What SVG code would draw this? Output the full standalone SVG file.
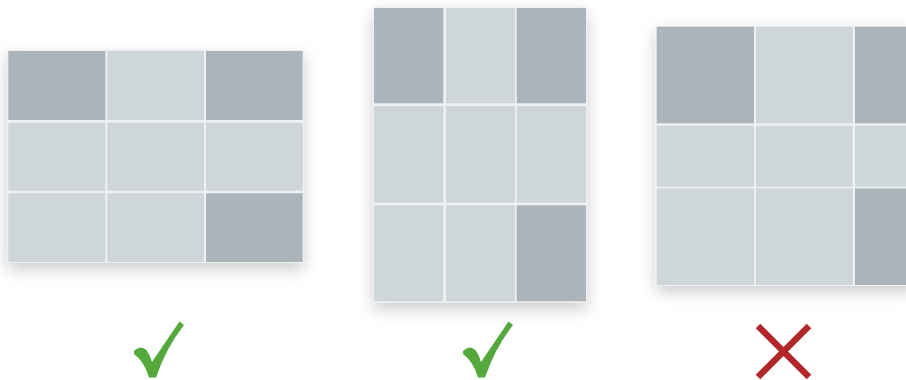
<svg xmlns="http://www.w3.org/2000/svg" width="906" height="380" viewBox="0 0 906 380">
<defs>
<filter id="sh" x="-25%" y="-25%" width="150%" height="160%">
<feDropShadow dx="0" dy="6" stdDeviation="8" flood-color="#000" flood-opacity="0.2"/>
</filter>
<style>
.bg{fill:#eef1f2;filter:url(#sh)}
.d{fill:#acb4bb}
.l{fill:#ced6d8}
.ok{fill:#55a83c}
.no{stroke:#b3262a;stroke-width:6.5;fill:none}
</style>
</defs>
<rect width="906" height="380" fill="#ffffff"/>
<g id="grid1">
<rect class="bg" x="7" y="50" width="297" height="213"/>
<rect class="d" x="8.3" y="51" width="97" height="69"/>
<rect class="l" x="107.3" y="51" width="96.7" height="69"/>
<rect class="d" x="206" y="51" width="96.7" height="69"/>
<rect class="l" x="8.3" y="122.7" width="97" height="68"/>
<rect class="l" x="107.3" y="122.7" width="96.7" height="68"/>
<rect class="l" x="206" y="122.7" width="96.7" height="68"/>
<rect class="l" x="8.3" y="193.3" width="97" height="68.7"/>
<rect class="l" x="107.3" y="193.3" width="96.7" height="68.7"/>
<rect class="d" x="206" y="193.3" width="96.7" height="68.7"/>
</g>
<g id="grid2">
<rect class="bg" x="373" y="7" width="214" height="295.5"/>
<rect class="d" x="374" y="8" width="69.3" height="95.3"/>
<rect class="l" x="446" y="8" width="69" height="95.3"/>
<rect class="d" x="516.7" y="8" width="69.3" height="95.3"/>
<rect class="l" x="374" y="106" width="69.3" height="96.7"/>
<rect class="l" x="446" y="106" width="69" height="96.7"/>
<rect class="l" x="516.7" y="106" width="69.3" height="96.7"/>
<rect class="l" x="374" y="205.3" width="69.3" height="96"/>
<rect class="l" x="446" y="205.3" width="69" height="96"/>
<rect class="d" x="516.7" y="205.3" width="69.3" height="96"/>
</g>
<g id="grid3">
<rect class="bg" x="655.7" y="25.7" width="260" height="260.3"/>
<rect class="d" x="656.7" y="26.7" width="97.3" height="96.6"/>
<rect class="l" x="756" y="26.7" width="96.7" height="96.6"/>
<rect class="d" x="855" y="26.7" width="60" height="96.6"/>
<rect class="l" x="656.7" y="125.7" width="97.3" height="61"/>
<rect class="l" x="756" y="125.7" width="96.7" height="61"/>
<rect class="l" x="855" y="125.7" width="60" height="61"/>
<rect class="l" x="656.7" y="188.3" width="97.3" height="96.7"/>
<rect class="l" x="756" y="188.3" width="96.7" height="96.7"/>
<rect class="d" x="855" y="188.3" width="60" height="96.7"/>
</g>
<g id="check1" transform="translate(120,310)">
<path class="ok" d="M14,41 Q20,34.5 26.5,40 Q30,45 32,52 L59.5,11.5 L64,15 Q46,38 36,67.5 L29,67.5 Q24,51 14,44 Z"/>
</g>
<g id="check2" transform="translate(449,310)">
<path class="ok" d="M14,41 Q20,34.5 26.5,40 Q30,45 32,52 L59.5,11.5 L64,15 Q46,38 36,67.5 L29,67.5 Q24,51 14,44 Z"/>
</g>
<g id="cross">
<path class="no" d="M758,326 L809,377 M809,326 L758,377"/>
</g>
</svg>
